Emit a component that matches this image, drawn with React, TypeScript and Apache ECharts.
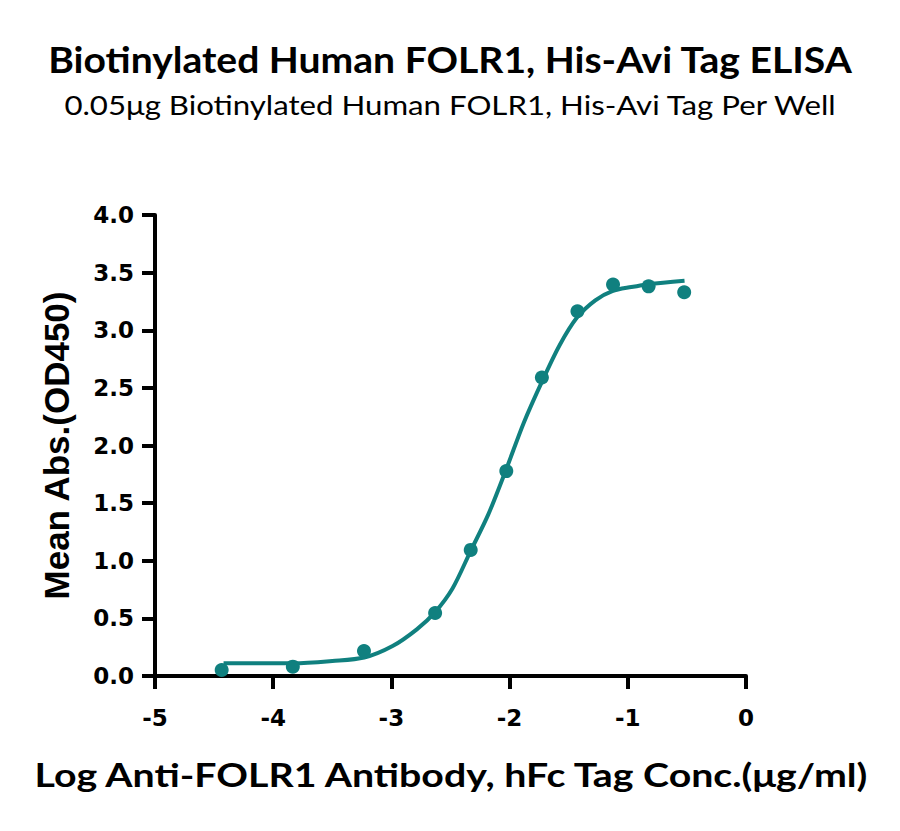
import React, { useEffect, useRef } from "react";
import * as echarts from "echarts";

// measured points: log concentration vs mean OD450
const logConc = [-4.436, -3.834, -3.232, -2.63, -2.329, -2.028, -1.727, -1.426, -1.125, -0.824, -0.523];
const meanAbs = [0.052, 0.081, 0.216, 0.547, 1.094, 1.778, 2.59, 3.165, 3.396, 3.381, 3.33];

// fitted curve
const fitX = [-4.42, -3.83, -3.5, -3.23, -2.99, -2.785, -2.634, -2.483, -2.332, -2.181, -2.03, -1.879, -1.728, -1.577, -1.43, -1.275, -1.131, -0.97, -0.822, -0.52];
const fitY = [0.11, 0.11, 0.13, 0.16, 0.26, 0.405, 0.55, 0.76, 1.08, 1.4, 1.79, 2.2, 2.55, 2.87, 3.11, 3.26, 3.34, 3.375, 3.4, 3.43];

const yTicks = ["0.0", "0.5", "1.0", "1.5", "2.0", "2.5", "3.0", "3.5", "4.0"];

const TITLE = "Biotinylated Human FOLR1, His-Avi Tag ELISA";
const SUBTITLE = "0.05μg Biotinylated Human FOLR1, His-Avi Tag Per Well";
const X_NAME = "Log Anti-FOLR1 Antibody, hFc Tag Conc.(μg/ml)";
const Y_NAME = "Mean Abs.(OD450)";

const TEAL = "#10807f";

const App: React.FC = () => {
  const chartRef = useRef<HTMLDivElement>(null);

  useEffect(() => {
    if (!chartRef.current) return;
    const chart = echarts.init(chartRef.current, undefined, { renderer: "svg" });

    const tickLabel = {
      fontFamily: "DejaVu Sans",
      fontWeight: "bold",
      fontSize: 23,
      color: "#000",
    };

    const option = {
      animation: false,
      backgroundColor: "#ffffff",
      // the source picture is a little wider than tall, so the big texts are stretched
      graphic: [
        {
          type: "text",
          x: 450,
          y: 59,
          scaleX: 1.085,
          style: { text: TITLE, font: "bold 36px Lato", fill: "#000", align: "center", verticalAlign: "middle" },
        },
        {
          type: "text",
          x: 450,
          y: 105,
          scaleX: 1.2,
          style: { text: SUBTITLE, font: "26px Lato", fill: "#000", align: "center", verticalAlign: "middle" },
        },
        {
          type: "text",
          x: 451,
          y: 774,
          scaleX: 1.19,
          style: { text: X_NAME, font: "bold 33px Lato", fill: "#000", align: "center", verticalAlign: "middle" },
        },
      ],
      grid: { left: 155, right: 154, top: 215, bottom: 155 },
      xAxis: {
        type: "value",
        min: -5,
        max: 0,
        interval: 1,
        splitLine: { show: false },
        axisLine: { onZero: false, lineStyle: { color: "#000", width: 4 } },
        axisTick: { length: 13, lineStyle: { color: "#000", width: 4 } },
        axisLabel: { ...tickLabel, margin: 30 },
      },
      yAxis: {
        type: "value",
        min: 0,
        max: 4,
        interval: 0.5,
        name: Y_NAME,
        nameLocation: "middle",
        nameGap: 81,
        nameTextStyle: { fontFamily: "Liberation Sans", fontWeight: "bold", fontSize: 35, color: "#000" },
        splitLine: { show: false },
        axisLine: { onZero: false, lineStyle: { color: "#000", width: 4 } },
        axisTick: { length: 13, lineStyle: { color: "#000", width: 4 } },
        axisLabel: {
          ...tickLabel,
          margin: 21,
          formatter: (v: number) => yTicks[Math.round(v / 0.5)] ?? v.toFixed(1),
        },
      },
      series: [
        {
          type: "line",
          data: fitX.map((x, i) => [x, fitY[i]]),
          smooth: 0.3,
          showSymbol: false,
          symbol: "none",
          lineStyle: { color: TEAL, width: 4 },
          z: 2,
        },
        {
          type: "scatter",
          data: logConc.map((x, i) => [x, meanAbs[i]]),
          symbol: "circle",
          symbolSize: 14,
          itemStyle: { color: TEAL, opacity: 1 },
          z: 3,
        },
      ],
    };

    chart.setOption(option);
    return () => chart.dispose();
  }, []);

  return (
    <div
      ref={chartRef}
      style={{ position: "absolute", left: 0, top: 0, width: "900px", height: "831px" }}
    />
  );
};

export default App;
